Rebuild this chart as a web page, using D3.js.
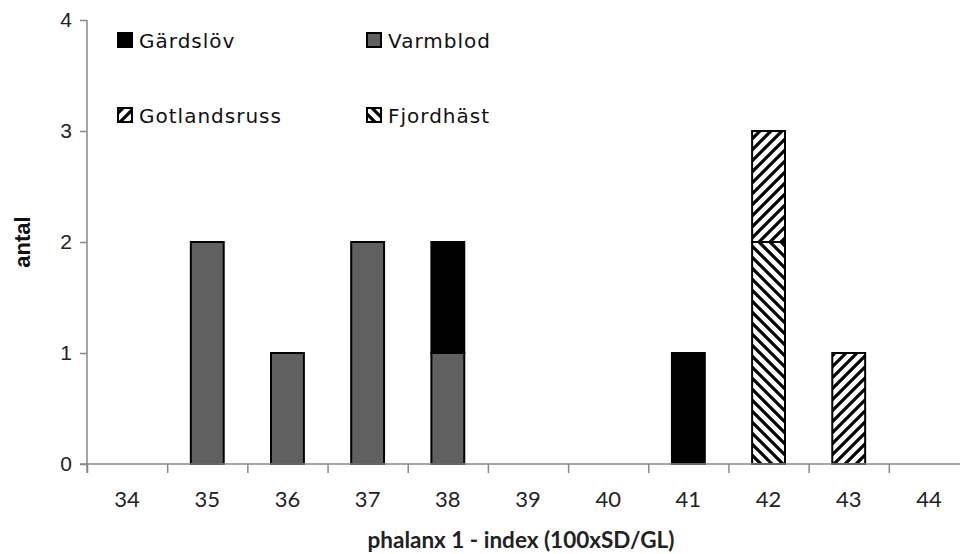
<!DOCTYPE html>
<html><head><meta charset="utf-8">
<script src="https://cdn.jsdelivr.net/npm/d3@7"></script>
<style>body{margin:0;background:#fff}svg{display:block}</style>
</head><body>
<script>
const categories = ["34","35","36","37","38","39","40","41","42","43","44"];
const seriesNames = ["Varmblod","Gärdslöv","Fjordhäst","Gotlandsruss"];
const varmblod     = [0,2,1,2,1,0,0,0,0,0,0];
const gardslov     = [0,0,0,0,1,0,0,1,0,0,0];
const fjordhast    = [0,0,0,0,0,0,0,0,2,0,0];
const gotlandsruss = [0,0,0,0,0,0,0,0,1,1,0];
const yTicks = [0,1,2,3,4];
const legendOrder = ["Gärdslöv","Varmblod","Gotlandsruss","Fjordhäst"];

const W = 960, H = 554;
const svg = d3.select("body").append("svg").attr("width", W).attr("height", H);
const defs = svg.append("defs");
function hatch(id, dir){
  const p = defs.append("pattern").attr("id", id).attr("patternUnits","userSpaceOnUse")
    .attr("width", 11).attr("height", 11);
  p.append("rect").attr("width",11).attr("height",11).attr("fill","#fff");
  const d = dir === "/" ? "M-3,3 L3,-3 M0,11 L11,0 M8,14 L14,8" : "M-3,8 L3,14 M0,0 L11,11 M8,-3 L14,3";
  p.append("path").attr("d", d).attr("stroke","#000").attr("stroke-width",3.2);
}
hatch("hFwd","/");
hatch("hBack","\\");
const fills = {"Varmblod":"#606060","Gärdslöv":"#000","Fjordhäst":"url(#hBack)","Gotlandsruss":"url(#hFwd)"};

const x0 = 87, x1 = 969, yBot = 464, yTop = 20;
const x = d3.scaleBand().domain(categories).range([x0, x1]).paddingInner(0.59).paddingOuter(0.295);
const xb = d3.scaleLinear().domain([0, categories.length]).range([x0, x1]);
const y = d3.scaleLinear().domain([0,4]).range([yBot, yTop]);

const rows = categories.map((c,i)=>({cat:c, "Varmblod":varmblod[i], "Gärdslöv":gardslov[i], "Fjordhäst":fjordhast[i], "Gotlandsruss":gotlandsruss[i]}));
const stacked = d3.stack().keys(seriesNames)(rows);

stacked.forEach(s=>{
  svg.append("g").selectAll("rect").data(s.filter(d=>d[1]-d[0]>0)).join("rect")
    .attr("x", d=>x(d.data.cat)).attr("width", x.bandwidth())
    .attr("y", d=>y(d[1])).attr("height", d=>y(d[0])-y(d[1]))
    .attr("fill", fills[s.key]).attr("stroke","#000").attr("stroke-width",2);
});

const yAxis = svg.append("g").attr("transform",`translate(${x0},0)`)
  .call(d3.axisLeft(y).tickValues(yTicks).tickSize(7).tickPadding(8).tickFormat(d3.format("d")));
yAxis.select(".domain").attr("stroke","#888").attr("stroke-width",1.5).attr("d",`M0,${yTop}V${yBot+9}`);
yAxis.selectAll(".tick line").attr("stroke","#888").attr("stroke-width",1.5);
yAxis.selectAll("text").attr("font-family","Liberation Sans, Arial").attr("font-size",21).attr("fill","#222");

const xAxisB = svg.append("g").attr("transform",`translate(0,${yBot})`)
  .call(d3.axisBottom(xb).tickValues(d3.range(0, categories.length+1)).tickSize(9).tickFormat(""));
xAxisB.select(".domain").attr("stroke","#888").attr("stroke-width",1.5).attr("d",`M${x0-7},0H${W}`);
xAxisB.selectAll(".tick line").attr("stroke","#888").attr("stroke-width",1.5);

const xAxisL = svg.append("g").attr("transform",`translate(0,${yBot})`)
  .call(d3.axisBottom(x).tickSize(0).tickPadding(27));
xAxisL.select(".domain").remove();
xAxisL.selectAll("text").attr("font-family","Lato, sans-serif").attr("font-size",22).attr("fill","#222");

svg.append("text").attr("x", 521).attr("y", 548).attr("text-anchor","middle")
  .attr("font-family","Lato, sans-serif").attr("font-weight","bold").attr("font-size",22.5).attr("fill","#222")
  .text("phalanx 1 - index (100xSD/GL)");
svg.append("text").attr("transform","translate(30,242) rotate(-90)").attr("text-anchor","middle")
  .attr("font-family","Liberation Sans, Arial").attr("font-weight","bold").attr("font-size",22).attr("fill","#111")
  .text("antal");

const legPos = [[118,33],[367,33],[118,108],[367,108]];
legendOrder.forEach((name,i)=>{
  const [lx,ly] = legPos[i];
  svg.append("rect").attr("x",lx).attr("y",ly).attr("width",14).attr("height",14)
    .attr("fill",fills[name]).attr("stroke","#000").attr("stroke-width",2);
  svg.append("text").attr("x",lx+21).attr("y",ly+15).attr("font-family","DejaVu Sans, sans-serif")
    .attr("font-size",20).attr("letter-spacing",1).attr("fill","#111").text(name);
});
</script>
</body></html>
